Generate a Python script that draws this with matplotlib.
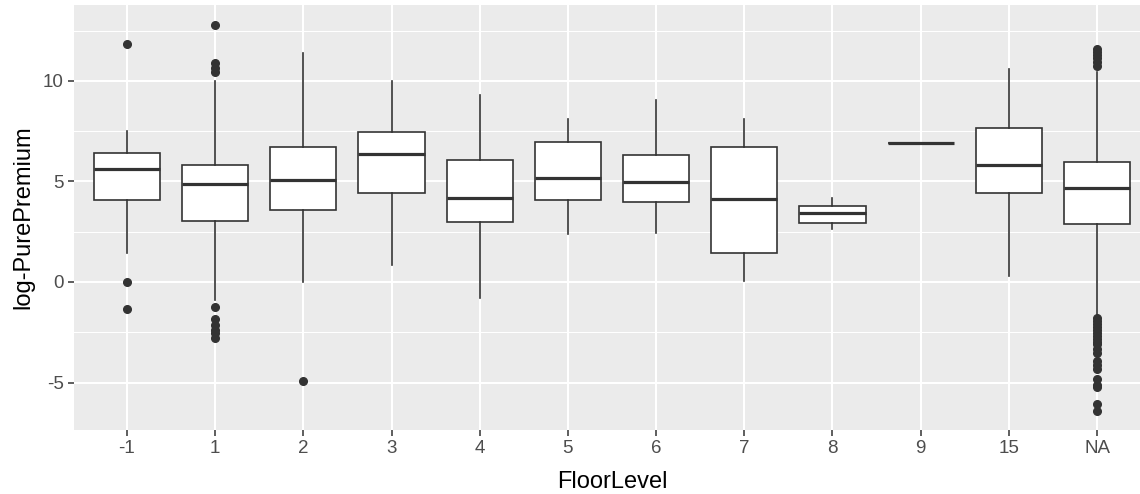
import matplotlib
matplotlib.use('Agg')
import matplotlib.pyplot as plt
from matplotlib.ticker import MultipleLocator

plt.rcParams['font.family'] = ['Liberation Sans', 'DejaVu Sans']
plt.rcParams['axes.unicode_minus'] = False

niveles = ['-1', '1', '2', '3', '4', '5', '6', '7', '8', '9', '15', 'NA']
q1 = [4.08, 3.05, 3.59, 4.41, 2.97, 4.08, 3.99, 1.43, 2.95, 6.89, 4.41, 2.88]
mediana = [5.63, 4.86, 5.07, 6.36, 4.19, 5.15, 4.99, 4.11, 3.41, 6.89, 5.80, 4.69]
q3 = [6.40, 5.83, 6.73, 7.44, 6.06, 6.94, 6.31, 6.73, 3.78, 6.89, 7.67, 5.98]
bigote_inf = [1.43, -0.89, 0.00, 0.84, -0.81, 2.37, 2.45, 0.05, 2.62, 6.89, 0.30, -1.72]
bigote_sup = [7.50, 9.99, 11.37, 10.00, 9.28, 8.08, 9.05, 8.08, 4.17, 6.89, 10.57, 10.45]
atipicos = [
    [11.81, 0.0, -1.34],
    [12.77, 10.90, 10.62, 10.45, -1.26, -1.86, -2.14, -2.39, -2.55, -2.80],
    [-4.92],
    [], [], [], [], [], [], [], [],
    [10.75, 10.95, 11.15, 11.30, 11.45, 11.58,
     -1.80, -1.95, -2.10, -2.25, -2.40, -2.55, -2.70, -2.85, -3.00, -3.10,
     -3.35, -3.55, -3.95, -4.15, -4.35, -4.80, -5.10, -5.20, -6.05, -6.40],
]

stats = []
for i in range(len(niveles)):
    stats.append({'q1': q1[i], 'med': mediana[i], 'q3': q3[i],
                  'whislo': bigote_inf[i], 'whishi': bigote_sup[i],
                  'fliers': atipicos[i], 'label': niveles[i]})

fig = plt.figure(figsize=(11.4, 4.94), dpi=100)
ax = fig.add_axes([74 / 1140, 64 / 494, 1076 / 1140, 425 / 494])
ax.set_facecolor('#EBEBEB')

pos = list(range(1, len(niveles) + 1))
ax.bxp(stats, positions=pos, widths=0.75, patch_artist=True, showcaps=False,
       boxprops=dict(facecolor='white', edgecolor='#333333', linewidth=1.2),
       whiskerprops=dict(color='#333333', linewidth=1.2),
       medianprops=dict(color='#333333', linewidth=2.3),
       flierprops=dict(marker='o', markerfacecolor='#333333', markeredgecolor='#333333',
                       markersize=5.5, linestyle='none'),
       zorder=3)

ax.set_xlim(0.4, 12.6)
ax.set_ylim(-7.36, 13.77)
ax.yaxis.set_major_locator(MultipleLocator(5))
ax.yaxis.set_minor_locator(MultipleLocator(2.5))
ax.set_xticks(pos)
ax.set_xticklabels(niveles)

ax.grid(which='major', color='white', linewidth=1.5, zorder=0)
ax.grid(which='minor', axis='y', color='white', linewidth=0.75, zorder=0)
ax.set_axisbelow(True)
for s in ax.spines.values():
    s.set_visible(False)

ax.tick_params(which='major', length=4.5, width=1.1, color='#333333',
               labelsize=13.5, labelcolor='#4D4D4D', pad=3)
ax.tick_params(which='minor', length=0)

ax.set_xlabel('FloorLevel', fontsize=17, color='black', labelpad=10)
ax.set_ylabel('log-PurePremium', fontsize=17, color='black', labelpad=6)

fig.savefig('out.png', dpi=100)
